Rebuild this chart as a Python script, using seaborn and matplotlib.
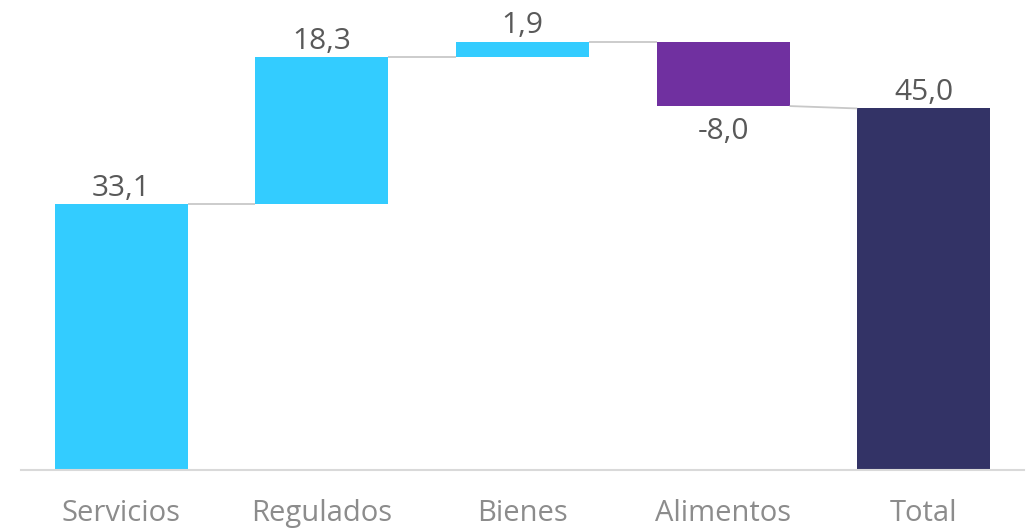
import matplotlib
matplotlib.use("Agg")
import matplotlib.pyplot as plt
import seaborn as sns
import numpy as np

categories = ["Servicios", "Regulados", "Bienes", "Alimentos", "Total"]
values = [33.1, 18.3, 1.9, -8.0, 45.0]
is_total = [False, False, False, False, True]
colors = ["#33CCFF", "#33CCFF", "#33CCFF", "#7030A0", "#333366"]

sns.set_theme(style="white")
plt.rcParams["font.family"] = ["Open Sans", "DejaVu Sans"]

# waterfall geometry
bottoms, heights, ends = [], [], []
cum = 0.0
for v, t in zip(values, is_total):
    if t:
        bottoms.append(0.0)
        heights.append(v)
        ends.append(v)
    else:
        bottoms.append(cum)
        heights.append(v)
        cum += v
        ends.append(cum)

fig = plt.figure(figsize=(10.32, 5.31), dpi=100)
ax = fig.add_axes([21 / 1032, 1 - 470 / 531, 1003 / 1032, 470 / 531])

width = 0.663
sns.barplot(x=categories, y=heights, bottom=bottoms, ax=ax, width=width,
            errorbar=None, color="#33CCFF", saturation=1, linewidth=0)
for p, c in zip(ax.patches, colors):
    p.set_facecolor(c)
    p.set_edgecolor("none")

# connectors
for i in range(len(values) - 1):
    y0 = ends[i]
    y1 = values[i + 1] if is_total[i + 1] else bottoms[i + 1]
    ax.plot([i + width / 2, i + 1 - width / 2], [y0, y1], color="#c8c8c8",
            lw=1.3, zorder=1, solid_capstyle="butt")

# value labels
for i, v in enumerate(values):
    txt = f"{v:.1f}".replace(".", ",")
    y = bottoms[i] + heights[i]
    if v >= 0:
        ax.annotate(txt, (i, y), xytext=(0, 1), textcoords="offset points",
                    ha="center", va="bottom", fontsize=21.5, color="#595959")
    else:
        ax.annotate(txt, (i, y), xytext=(0, -8), textcoords="offset points",
                    ha="center", va="top", fontsize=21.5, color="#595959")

ax.set_xlim(-0.5, 4.5)
ax.set_ylim(0, 58.5)
ax.set_yticks([])
ax.set_ylabel("")
for s in ["top", "right", "left"]:
    ax.spines[s].set_visible(False)
ax.spines["bottom"].set_color("#d9d9d9")
ax.spines["bottom"].set_linewidth(1.5)
ax.tick_params(axis="x", length=0, pad=21, labelsize=21, labelcolor="#8c8c8c")
ax.patch.set_alpha(0)

fig.savefig("out.png", dpi=100)
